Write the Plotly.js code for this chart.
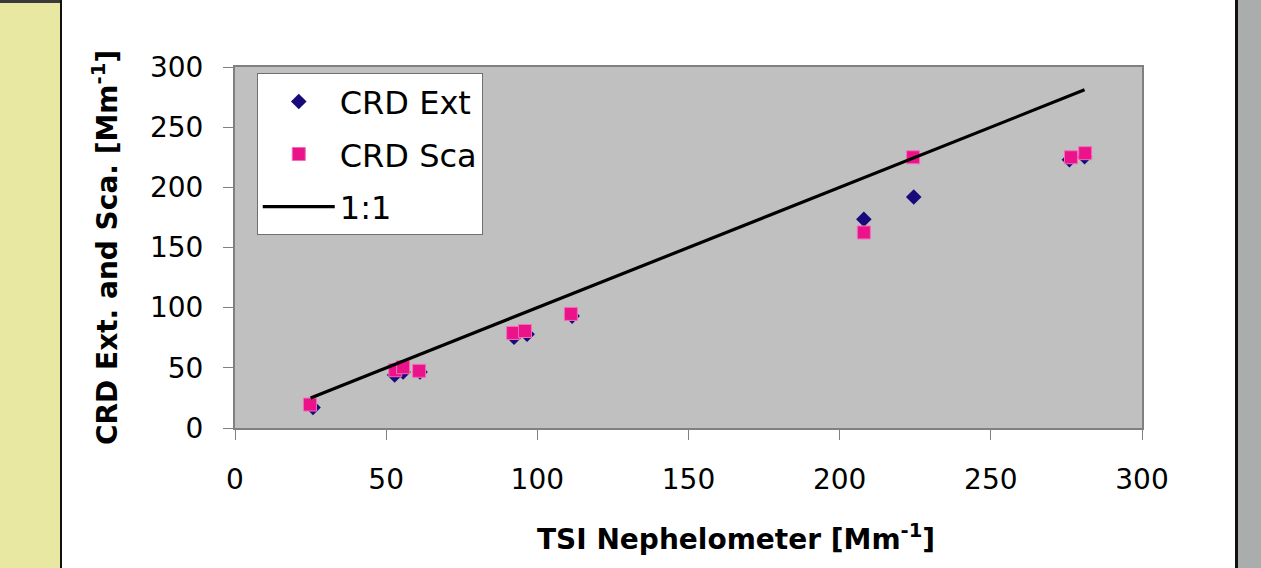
<!DOCTYPE html>
<html>
<head>
<meta charset="utf-8">
<script src="https://cdn.plot.ly/plotly-3.0.1.min.js"></script>
<style>
html,body{margin:0;padding:0;background:#ffffff;}
#wrap{position:relative;width:1261px;height:568px;overflow:hidden;background:#ffffff;}
#leftStrip{position:absolute;left:0;top:0;width:60px;height:568px;background:#e8e8a2;}
#leftTop{position:absolute;left:0;top:0;width:62px;height:3px;background:#3a3a3a;}
#leftLine{position:absolute;left:60px;top:0;width:2px;height:568px;background:#111111;}
#rightLine{position:absolute;left:1235px;top:0;width:3px;height:568px;background:#111111;}
#rightStrip{position:absolute;left:1238px;top:0;width:23px;height:568px;background:#a9aeac;}
#chart{position:absolute;left:0;top:0;width:1261px;height:568px;}
</style>
</head>
<body>
<div id="wrap">
  <div id="leftStrip"></div>
  <div id="leftTop"></div>
  <div id="leftLine"></div>
  <div id="rightLine"></div>
  <div id="rightStrip"></div>
  <div id="chart"></div>
</div>
<script>
// CRD Ext (navy diamonds)
var extX = [25.8, 52.8, 55.6, 61.2, 92.3, 96.6, 111.5, 208, 224.5, 276, 281];
var extY = [17, 44, 46.5, 46.5, 75.5, 78, 93, 173.5, 192, 223, 225.5];
// CRD Sca (pink squares)
var scaX = [24.8, 53, 55.6, 60.9, 92, 95.9, 111.1, 208, 224.3, 276.5, 281.2];
var scaY = [19.5, 48, 50.5, 47.5, 79, 80.6, 94.8, 162.5, 225, 225, 228.4];
// 1:1 line
var lineX = [25, 281];
var lineY = [25, 281];

var names = ['CRD Ext', 'CRD Sca', '1:1'];
var xTitle = 'TSI Nephelometer [Mm<sup>-1</sup>]';
var yTitle = 'CRD Ext. and Sca. [Mm<sup>-1</sup>]';

var FONT = 'DejaVu Sans, Arial, sans-serif';

var traces = [
  {
    x: extX, y: extY, name: names[0], type: 'scatter', mode: 'markers',
    legendgroup: 'a',
    marker: {symbol: 'diamond', size: 12, color: '#180a7a', line: {width: 0}}
  },
  {
    x: scaX, y: scaY, name: names[1], type: 'scatter', mode: 'markers',
    legendgroup: 'b',
    marker: {symbol: 'square', size: 13, color: '#ec128a', line: {width: 1, color: '#f070b8'}}
  },
  {
    x: lineX, y: lineY, name: names[2], type: 'scatter', mode: 'lines',
    legendgroup: 'c',
    line: {color: '#000000', width: 3.2}
  }
];

var layout = {
  width: 1261, height: 568,
  margin: {l: 235, r: 119, t: 67, b: 140, pad: 0},
  paper_bgcolor: 'rgba(0,0,0,0)',
  plot_bgcolor: '#c0c0c0',
  font: {family: FONT, color: '#000000', size: 28},
  showlegend: true,
  legend: {
    x: 0.024, y: 0.983, xanchor: 'left', yanchor: 'top',
    bgcolor: '#ffffff', bordercolor: '#707070', borderwidth: 1,
    font: {family: FONT, size: 32, color: '#000000'},
    traceorder: 'grouped', tracegroupgap: 8,
    itemwidth: 72
  },
  xaxis: {
    range: [0, 300], tickvals: [0, 50, 100, 150, 200, 250, 300],
    showgrid: false, zeroline: false,
    showline: true, linecolor: '#808080', linewidth: 2, mirror: true,
    ticks: 'outside', ticklen: 10, tickcolor: '#808080', tickwidth: 1,
    tickfont: {family: FONT, size: 28, color: '#000000'},
    ticklabelstandoff: 15
  },
  yaxis: {
    range: [0, 300], tickvals: [0, 50, 100, 150, 200, 250, 300],
    showgrid: false, zeroline: false,
    showline: true, linecolor: '#808080', linewidth: 2, mirror: true,
    ticks: 'outside', ticklen: 10, tickcolor: '#808080', tickwidth: 1,
    tickfont: {family: FONT, size: 28, color: '#000000'},
    ticklabelstandoff: 14,
    title: {text: yTitle, font: {family: FONT, size: 28, color: '#000000', weight: 'bold'}, standoff: 24}
  },
  annotations: [
    {
      text: xTitle, xref: 'paper', yref: 'paper',
      x: 0.5524, y: -0.302, xanchor: 'center', yanchor: 'middle',
      showarrow: false,
      font: {family: FONT, size: 28, color: '#000000', weight: 'bold'}
    }
  ]
};

Plotly.newPlot('chart', traces, layout, {displayModeBar: false, staticPlot: true});
</script>
</body>
</html>
